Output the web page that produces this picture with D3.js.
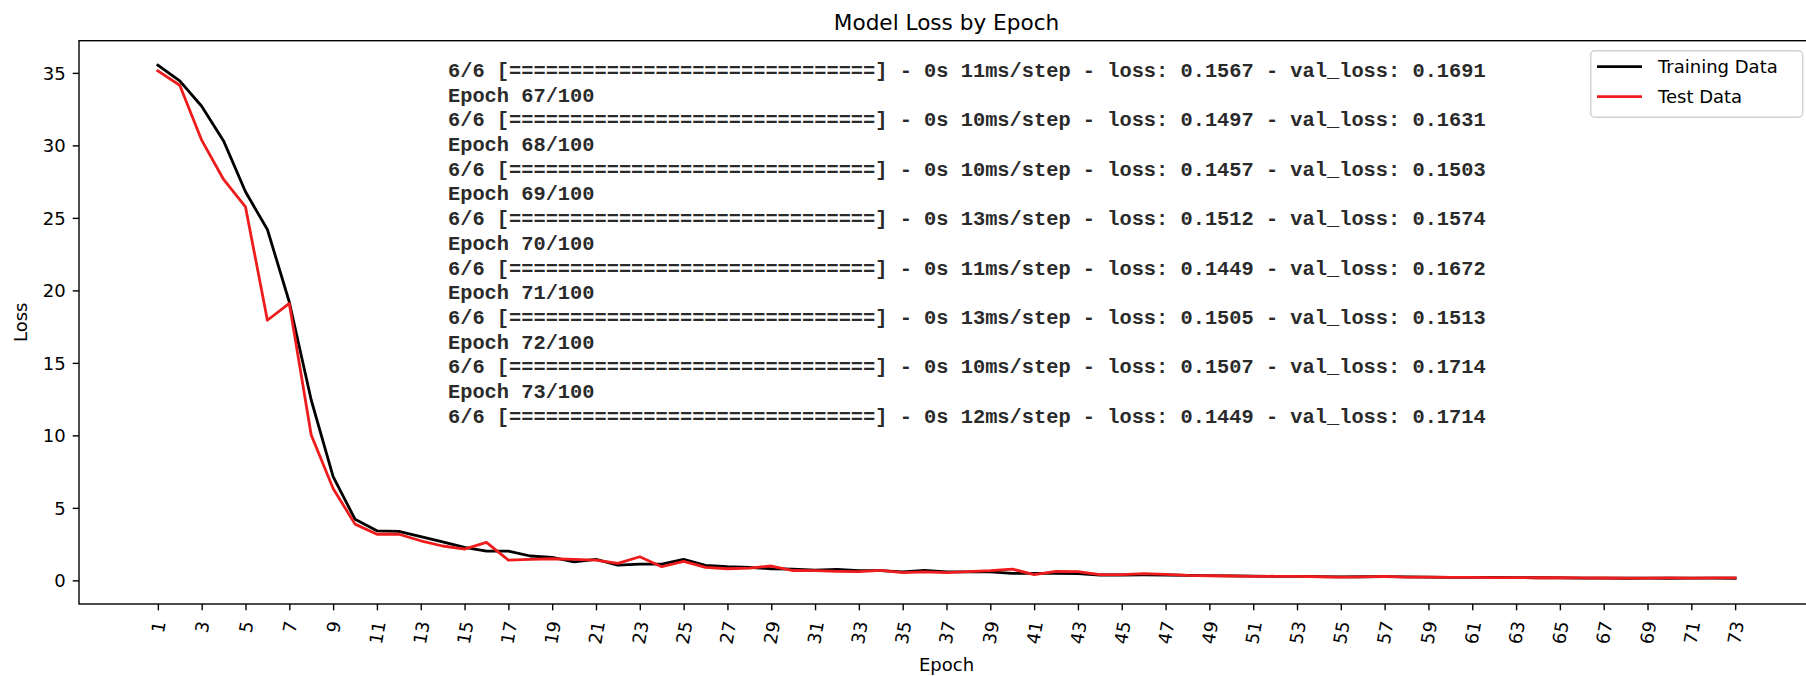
<!DOCTYPE html>
<html>
<head>
<meta charset="utf-8">
<script src="https://cdn.jsdelivr.net/npm/d3@7"></script>
<style>
  html, body { margin: 0; padding: 0; background: #ffffff; }
  svg { display: block; }
</style>
</head>
<body>
<svg id="chart" width="1806" height="676"></svg>
<script>
// Epoch numbers, one per training step
const epochs = [
  1, 2, 3, 4, 5, 6, 7, 8, 9, 10, 11, 12, 13, 14, 15, 16, 17, 18, 19, 20,
  21, 22, 23, 24, 25, 26, 27, 28, 29, 30, 31, 32, 33, 34, 35, 36, 37, 38, 39, 40,
  41, 42, 43, 44, 45, 46, 47, 48, 49, 50, 51, 52, 53, 54, 55, 56, 57, 58, 59, 60,
  61, 62, 63, 64, 65, 66, 67, 68, 69, 70, 71, 72, 73
];

// Training loss per epoch
const trainLoss = [
  35.53, 34.45, 32.70, 30.31, 26.80, 24.20, 19.20, 12.44, 7.15, 4.22,
  3.42, 3.38, 3.01, 2.66, 2.27, 2.02, 2.02, 1.68, 1.59, 1.28,
  1.45, 1.05, 1.12, 1.12, 1.45, 1.03, 0.94, 0.90, 0.80, 0.77,
  0.71, 0.76, 0.67, 0.67, 0.58, 0.69, 0.58, 0.58, 0.58, 0.48,
  0.48, 0.48, 0.46, 0.37, 0.37, 0.38, 0.37, 0.34, 0.33, 0.31,
  0.29, 0.28, 0.27, 0.26, 0.24, 0.25, 0.26, 0.24, 0.22, 0.21,
  0.20, 0.20, 0.19, 0.18, 0.17, 0.1567, 0.1497, 0.1457, 0.1512, 0.1449,
  0.1505, 0.1507, 0.1449
];

// Validation loss per epoch
const testLoss = [
  35.14, 34.15, 30.36, 27.65, 25.76, 17.94, 19.10, 10.02, 6.34, 3.88,
  3.18, 3.18, 2.73, 2.37, 2.16, 2.62, 1.40, 1.45, 1.49, 1.45,
  1.40, 1.17, 1.63, 0.94, 1.31, 0.90, 0.80, 0.85, 0.99, 0.68,
  0.67, 0.62, 0.60, 0.69, 0.53, 0.58, 0.53, 0.60, 0.67, 0.78,
  0.39, 0.62, 0.60, 0.39, 0.39, 0.46, 0.41, 0.34, 0.32, 0.30,
  0.28, 0.28, 0.27, 0.25, 0.23, 0.24, 0.27, 0.23, 0.22, 0.21,
  0.20, 0.19, 0.19, 0.18, 0.18, 0.1691, 0.1631, 0.1503, 0.1574, 0.1672,
  0.1513, 0.1714, 0.1714
];

// Tick values
const xTickEpochs = [
  1, 3, 5, 7, 9, 11, 13, 15, 17, 19, 21, 23, 25, 27, 29, 31, 33, 35, 37,
  39, 41, 43, 45, 47, 49, 51, 53, 55, 57, 59, 61, 63, 65, 67, 69, 71, 73
];
const yTicks = [0, 5, 10, 15, 20, 25, 30, 35];

// Series names for the legend
const seriesNames = ["Training Data", "Test Data"];

// Console log of the last training epochs
const consoleLines = [
  "6/6 [==============================] - 0s 11ms/step - loss: 0.1567 - val_loss: 0.1691",
  "Epoch 67/100",
  "6/6 [==============================] - 0s 10ms/step - loss: 0.1497 - val_loss: 0.1631",
  "Epoch 68/100",
  "6/6 [==============================] - 0s 10ms/step - loss: 0.1457 - val_loss: 0.1503",
  "Epoch 69/100",
  "6/6 [==============================] - 0s 13ms/step - loss: 0.1512 - val_loss: 0.1574",
  "Epoch 70/100",
  "6/6 [==============================] - 0s 11ms/step - loss: 0.1449 - val_loss: 0.1672",
  "Epoch 71/100",
  "6/6 [==============================] - 0s 13ms/step - loss: 0.1505 - val_loss: 0.1513",
  "Epoch 72/100",
  "6/6 [==============================] - 0s 10ms/step - loss: 0.1507 - val_loss: 0.1714",
  "Epoch 73/100",
  "6/6 [==============================] - 0s 12ms/step - loss: 0.1449 - val_loss: 0.1714"
];

// ---- layout ----
const svg = d3.select("#chart");
const FONT = "'DejaVu Sans', 'Noto Sans', sans-serif";
const axL = 79, axR = 1814, axT = 40.7, axB = 604;

const x = d3.scaleLinear().domain([-2.6, 76.6]).range([axL, axR]);
const y = d3.scaleLinear().domain([-1.63, 37.22]).range([axB, axT]);

// title
svg.append("text")
  .attr("x", (axL + axR) / 2).attr("y", 30)
  .attr("text-anchor", "middle")
  .style("font-family", FONT).style("font-size", "21.6px").style("fill", "#000")
  .text("Model Loss by Epoch");

// console log block
const logG = svg.append("g");
logG.selectAll("text").data(consoleLines).join("text")
  .attr("x", 448)
  .attr("y", (d, i) => 71.4 + i * 24.7)
  .attr("dominant-baseline", "central")
  .style("font-family", "'Liberation Mono', 'DejaVu Sans Mono', monospace")
  .style("font-size", "20.35px")
  .style("font-weight", "bold")
  .style("fill", "#2a2a2a")
  .style("white-space", "pre")
  .text(d => d);

// lines
const line = d3.line().x((d, i) => x(epochs[i])).y(d => y(d));
const series = [
  { name: seriesNames[0], values: trainLoss, color: "#000000" },
  { name: seriesNames[1], values: testLoss, color: "#ee1c1c" }
];
svg.append("g").selectAll("path").data(series).join("path")
  .attr("d", d => line(d.values))
  .attr("fill", "none")
  .attr("stroke", d => d.color)
  .attr("stroke-width", 2.8)
  .attr("stroke-linejoin", "round")
  .attr("stroke-linecap", "square");

// axes frame
svg.append("rect")
  .attr("x", axL).attr("y", axT)
  .attr("width", axR - axL).attr("height", axB - axT)
  .attr("fill", "none").attr("stroke", "#000").attr("stroke-width", 1.4);

// y axis
const yAxis = d3.axisLeft(y).tickValues(yTicks).tickSize(6.3).tickPadding(7);
const gy = svg.append("g").attr("transform", `translate(${axL},0)`).call(yAxis);
gy.select(".domain").remove();
gy.selectAll(".tick line").attr("stroke", "#000").attr("stroke-width", 1.4);
gy.selectAll(".tick text")
  .style("font-family", FONT).style("font-size", "18px").style("fill", "#000")
  .attr("dy", "0.35em");

// x axis
const xAxis = d3.axisBottom(x).tickValues(xTickEpochs).tickSize(6.3).tickFormat(d3.format("d"));
const gx = svg.append("g").attr("transform", `translate(0,${axB})`).call(xAxis);
gx.select(".domain").remove();
gx.selectAll(".tick line").attr("stroke", "#000").attr("stroke-width", 1.4);
const rot = 80 * Math.PI / 180;
gx.selectAll(".tick text")
  .style("font-family", FONT).style("font-size", "18px").style("fill", "#000")
  .attr("text-anchor", "middle")
  .attr("dominant-baseline", "central")
  .attr("dy", null)
  .each(function () {
    const L = this.getComputedTextLength();
    const H = 18 * 1.16;
    const ext = L * Math.sin(rot) + H * Math.cos(rot);
    const cy = 15.5 + ext / 2;
    d3.select(this).attr("y", cy).attr("x", 0)
      .attr("transform", `rotate(-80, 0, ${cy})`);
  });

// axis labels
svg.append("text")
  .attr("x", (axL + axR) / 2).attr("y", 671)
  .attr("text-anchor", "middle")
  .style("font-family", FONT).style("font-size", "18px").style("fill", "#000")
  .text("Epoch");
svg.append("text")
  .attr("transform", `translate(27,${(axT + axB) / 2}) rotate(-90)`)
  .attr("text-anchor", "middle")
  .style("font-family", FONT).style("font-size", "18px").style("fill", "#000")
  .text("Loss");

// legend
const leg = svg.append("g");
leg.append("rect")
  .attr("x", 1590.7).attr("y", 50.7)
  .attr("width", 212).attr("height", 66.6)
  .attr("rx", 4).attr("ry", 4)
  .attr("fill", "#ffffff").attr("fill-opacity", 0.8)
  .attr("stroke", "#d0d0d0").attr("stroke-width", 1.4);
const items = leg.selectAll("g.item").data(series).join("g")
  .attr("class", "item")
  .attr("transform", (d, i) => `translate(0,${66.7 + i * 30})`);
items.append("line")
  .attr("x1", 1597).attr("x2", 1642).attr("y1", 0).attr("y2", 0)
  .attr("stroke", d => d.color).attr("stroke-width", 2.8);
items.append("text")
  .attr("x", 1658).attr("y", 0)
  .attr("dominant-baseline", "central")
  .style("font-family", FONT).style("font-size", "18px").style("fill", "#000")
  .text(d => d.name);
</script>
</body>
</html>
